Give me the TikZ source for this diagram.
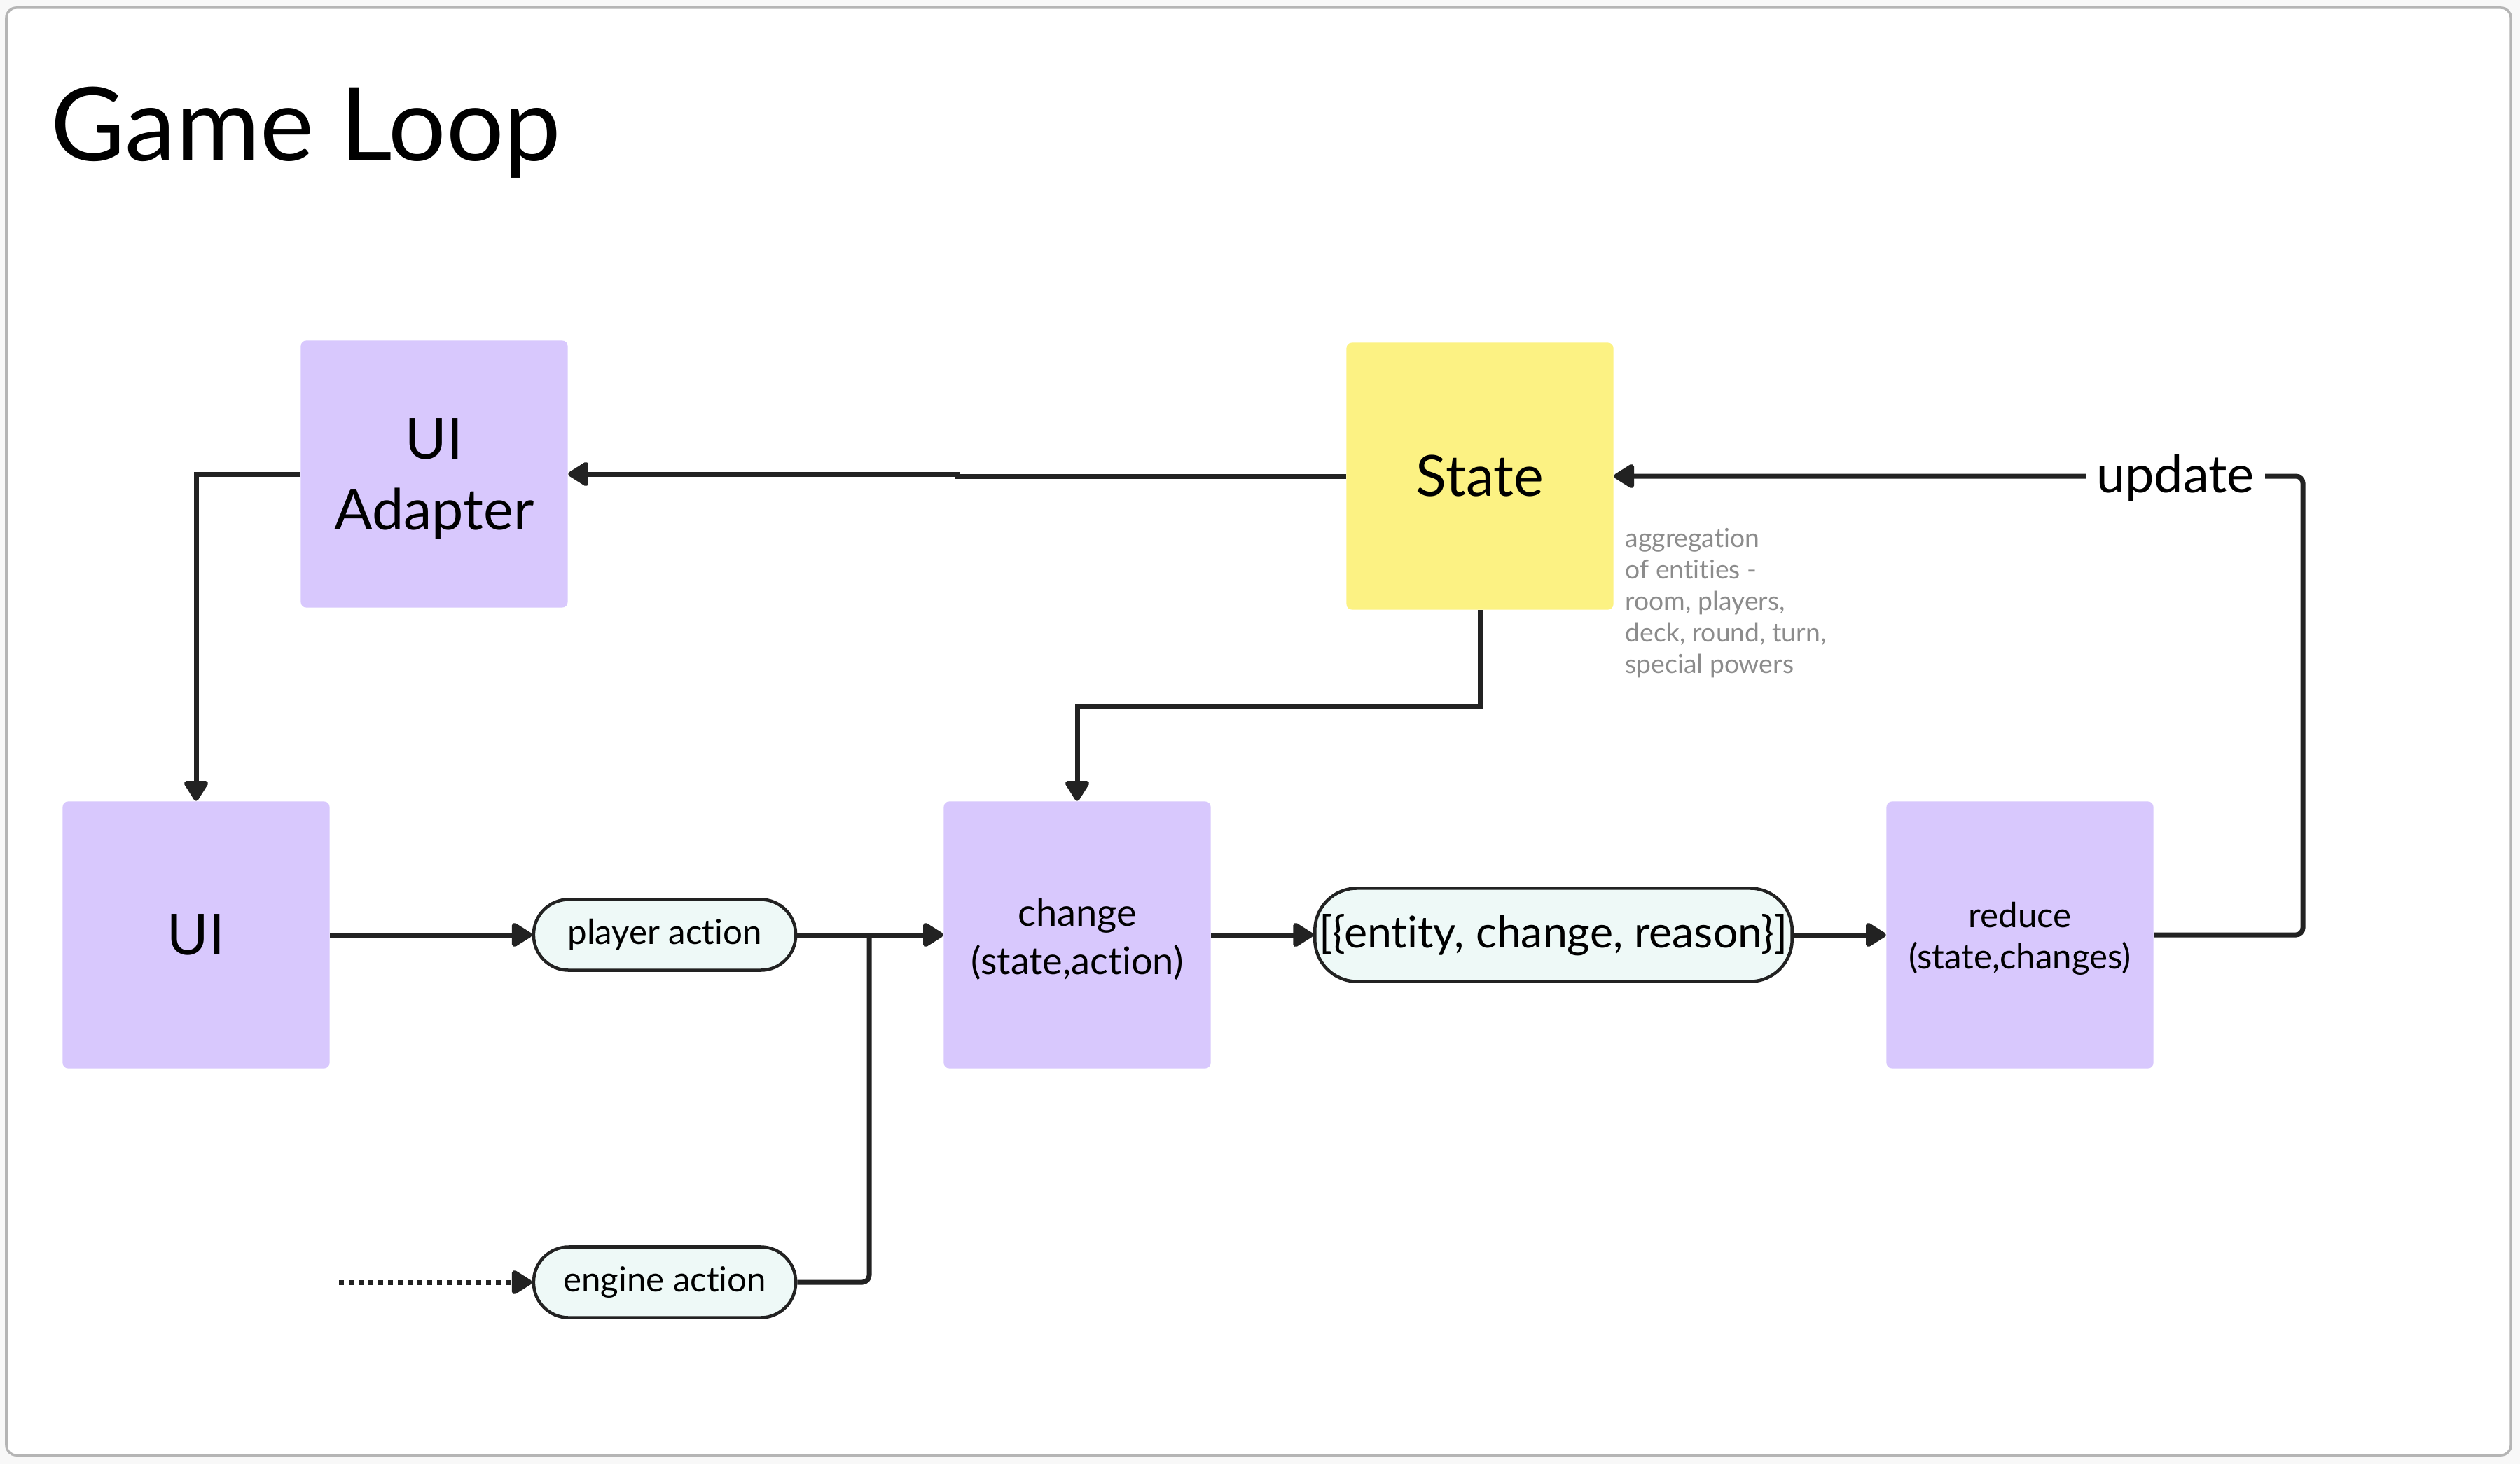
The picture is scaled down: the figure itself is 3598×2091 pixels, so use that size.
\documentclass[tikz,border=0pt]{standalone}
\usepackage{fontspec}
\setmainfont{Lato}[Ligatures=CommonOff]
\usetikzlibrary{arrows.meta,calc}
\definecolor{lav}{HTML}{D8C8FD}
\definecolor{yel}{HTML}{FCF283}
\definecolor{mint}{HTML}{EEF9F7}
\definecolor{ln}{HTML}{222222}
\definecolor{note}{HTML}{8C8C8C}
\definecolor{framec}{HTML}{B5B5B5}
\definecolor{bgc}{HTML}{F8F8F8}
\newcommand{\fsbig}{\fontsize{23pt}{28.7pt}\selectfont}
\newcommand{\fsmid}{\fontsize{15.4pt}{19.6pt}\selectfont}
\newcommand{\fssml}{\fontsize{14pt}{16.8pt}\selectfont}
\begin{document}
\begin{tikzpicture}[x=0.01cm,y=-0.01cm,
  box/.style={fill=lav, rounded corners=0.08cm, minimum width=3.81cm, minimum height=3.81cm, inner sep=0pt, align=center, text=black},
  pill/.style={draw=ln, line width=0.045cm, fill=mint, rounded corners=0.5cm, minimum width=3.74cm, minimum height=1.01cm, inner sep=0pt, font=\fontsize{14pt}{16pt}\selectfont},
  conn/.style={draw=ln, line width=0.07cm, -{Triangle[round,length=0.32cm,width=0.38cm]}},
  plain/.style={draw=ln, line width=0.07cm},
  dotline/.style={dash pattern=on 0.07cm off 0.07cm},
  lbl/.style={fill=white, inner sep=0.15cm, font=\fontsize{21pt}{25pt}\selectfont}
]
\useasboundingbox (0,0) rectangle (3598,2091);
\fill[bgc] (0,0) rectangle (3598,2091);
\draw[framec, line width=0.035cm, fill=white, rounded corners=0.14cm] (9,11) rectangle (3585,2078);

\node[anchor=base west, inner sep=0pt, font=\fontsize{41.4pt}{48pt}\selectfont] (title) at (72,229) {Game Loop};

\node[box] (uia) at (620,677) {};
\node[align=center, inner sep=0pt, font=\fsbig] (uiat) at (620,684) {UI\\Adapter};
\node[box, fill=yel, font=\fsbig] (st) at (2113,680) {State};
\node[box, font=\fsbig] (ui) at (280,1335) {UI};
\node[box] (ch) at (1538,1335) {};
\node[align=center, inner sep=0pt, font=\fsmid] (cht) at (1538,1341) {change\\(state,action)};
\node[box] (rd) at (2884,1335) {};
\node[align=center, inner sep=0pt, font=\fssml] (rdt) at (2884,1340) {reduce\\(state,changes)};

\node[pill] (pa) at (949,1335) {\raisebox{-2pt}{player action}};
\node[pill] (ea) at (949,1831) {\raisebox{-2pt}{engine action}};
\node[pill, minimum width=6.81cm, minimum height=1.33cm, rounded corners=0.6cm, font=\fontsize{17.8pt}{20pt}\selectfont] (ent) at (2218,1335) {[\{entity, change, reason\}]};

\node[anchor=north west, inner sep=0pt, align=left, text=note, font=\fontsize{10.6pt}{12.8pt}\selectfont] (agg) at (2320,754) {aggregation\\of entities -\\room, players,\\deck, round, turn,\\special powers};

\coordinate (jn) at (1241,1335);
\coordinate (ds) at (484,1831);
\coordinate (lpA) at (3288,1335);
\coordinate (lpB) at (3288,680);

\draw[conn] (st.west) -- ++(-555,0) |- (uia.east);
\draw[conn] (uia.west) -| (ui.north);
\draw[conn] (ui.east) -- (pa.west);
\draw[conn] (pa.east) -- (ch.west);
\draw[plain, rounded corners=0.1cm] (ea.east) -| (jn);
\draw[conn, dotline] (ds) -- (ea.west);
\draw[conn] (st.south) -- ++(0,137) -| (ch.north);
\draw[conn] (ch.east) -- (ent.west);
\draw[conn] (ent.east) -- (rd.west);
\draw[conn, rounded corners=0.1cm] (rd.east) -- (lpA) -- (lpB) -- (st.east);
\node[lbl] (upd) at (3106,683) {update};
\end{tikzpicture}
\end{document}
